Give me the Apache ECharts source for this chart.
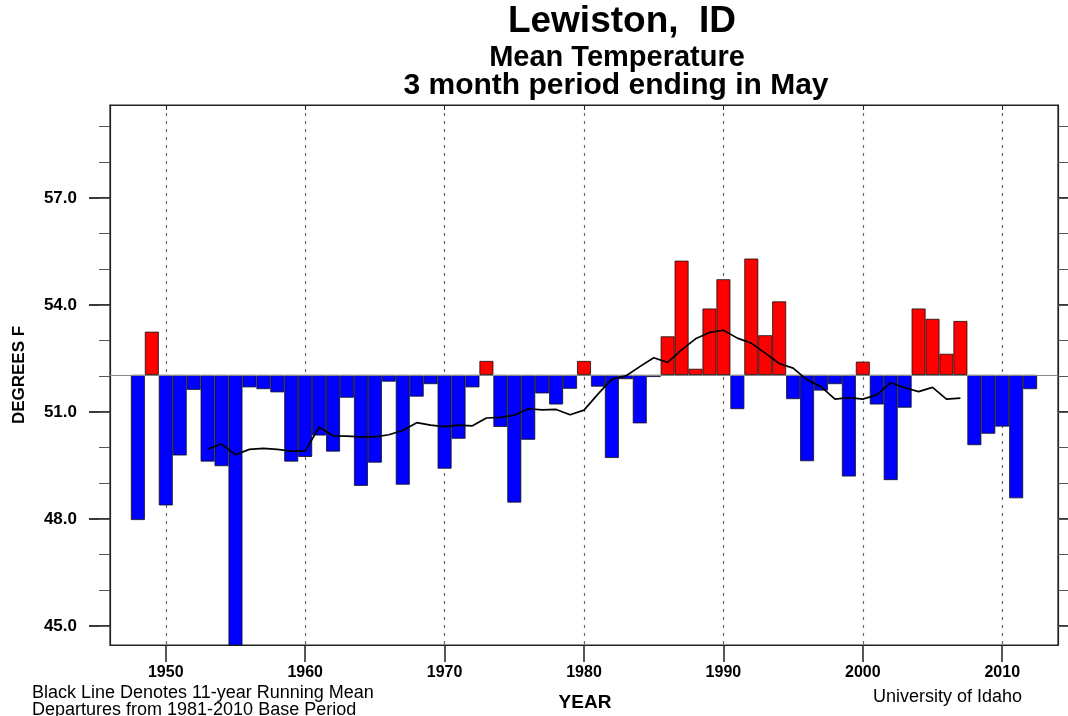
<!DOCTYPE html>
<html><head><meta charset="utf-8">
<script src="https://cdn.jsdelivr.net/npm/echarts@6/dist/echarts.min.js"></script>
<style>html,body{margin:0;padding:0;background:#fff}#c{width:1068px;height:716px}</style>
</head><body><div id="c"></div>
<script>
// x categories (axis spans 1946..2014, ticks at each year point)
const categories = ['1946','1947','1948','1949','1950','1951','1952','1953','1954','1955','1956','1957','1958','1959',
  '1960','1961','1962','1963','1964','1965','1966','1967','1968','1969','1970','1971','1972','1973','1974','1975',
  '1976','1977','1978','1979','1980','1981','1982','1983','1984','1985','1986','1987','1988','1989','1990','1991',
  '1992','1993','1994','1995','1996','1997','1998','1999','2000','2001','2002','2003','2004','2005','2006','2007',
  '2008','2009','2010','2011','2012','2013','2014'];
// Mean temperature (Mar-May) per year, 1948..2012
const barYears = [1948,1949,1950,1951,1952,1953,1954,1955,1956,1957,1958,1959,1960,1961,1962,1963,1964,1965,1966,1967,
  1968,1969,1970,1971,1972,1973,1974,1975,1976,1977,1978,1979,1980,1981,1982,1983,1984,1985,1986,1987,1988,1989,1990,
  1991,1992,1993,1994,1995,1996,1997,1998,1999,2000,2001,2002,2003,2004,2005,2006,2007,2008,2009,2010,2011,2012];
const temps = [47.97,53.25,48.38,49.78,51.62,49.61,49.48,44.30,51.69,51.64,51.55,49.61,49.74,50.34,49.89,51.40,48.93,
  49.58,51.85,48.96,51.43,51.78,49.41,50.25,51.69,52.43,50.58,48.46,50.22,51.52,51.21,51.65,52.43,51.71,49.71,51.92,
  50.68,51.98,53.12,55.24,52.21,53.90,54.72,51.08,55.30,53.15,54.10,51.36,49.62,51.60,51.78,49.19,52.41,51.21,49.09,
  51.12,53.90,53.61,52.63,53.55,50.07,50.39,50.59,48.58,51.64];
// 11-year running mean, 1953..2007
const runYears = [1953,1954,1955,1956,1957,1958,1959,1960,1961,1962,1963,1964,1965,1966,1967,1968,1969,1970,1971,1972,
  1973,1974,1975,1976,1977,1978,1979,1980,1981,1982,1983,1984,1985,1986,1987,1988,1989,1990,1991,1992,1993,1994,1995,
  1996,1997,1998,1999,2000,2001,2002,2003,2004,2005,2006,2007];
const runMean = [49.96,50.10,49.80,49.95,49.98,49.95,49.90,49.90,50.57,50.33,50.32,50.30,50.30,50.36,50.48,50.70,50.63,
  50.59,50.63,50.61,50.83,50.85,50.91,51.09,51.06,51.07,50.92,51.05,51.50,51.92,52.01,52.27,52.52,52.39,52.74,53.05,
  53.23,53.29,53.07,52.93,52.65,52.36,52.23,51.90,51.71,51.36,51.40,51.36,51.48,51.82,51.68,51.57,51.69,51.36,51.39];
const baseValue = 52.04;          // 1981-2010 base period mean
const majorTicks = [45,48,51,54,57];
const minorTicks = [45,46,47,48,49,50,51,52,53,54,55,56,57,58,59];
const yMin = 44.466, yMax = 59.606;

const baseData = categories.map(() => null);
const deltaData = categories.map(() => null);
barYears.forEach((y, i) => {
  const k = categories.indexOf(String(y));
  const v = temps[i];
  baseData[k] = Math.min(v, baseValue);
  deltaData[k] = { value: Math.abs(v - baseValue), itemStyle: { color: v >= baseValue ? '#ff0000' : '#0000ff' } };
});
const lineData = categories.map(() => null);
runYears.forEach((y, i) => { lineData[categories.indexOf(String(y))] = runMean[i]; });

const decade = (idx, val) => Number(val) % 10 === 0;
const FONT = '"Liberation Sans", Arial, Helvetica, sans-serif';
const AX = '#222';
const gridRect = { left: 110, right: 10, top: 105, bottom: 71, outerBoundsMode: 'none', containLabel: false };

const chart = echarts.init(document.getElementById('c'), null, { renderer: 'canvas' });
chart.setOption({
  animation: false,
  backgroundColor: '#fff',
  grid: [
    Object.assign({ show: true, borderColor: AX, borderWidth: 1.2, backgroundColor: 'transparent' }, gridRect),
    Object.assign({ show: false }, gridRect)
  ],
  xAxis: [
    { type: 'category', gridIndex: 0, position: 'bottom', data: categories, boundaryGap: false,
      axisLine: { show: true, lineStyle: { color: AX, width: 1.2 } },
      axisTick: { show: true, interval: decade, length: 17, lineStyle: { color: AX, width: 1.5 } },
      axisLabel: { interval: decade, margin: 20, color: '#000', fontFamily: FONT, fontWeight: 'bold', fontSize: 16 },
      splitLine: { show: true, interval: decade, lineStyle: { color: '#666', type: [3, 5], width: 1.2 } } },
    { type: 'category', gridIndex: 0, position: 'top', data: categories, boundaryGap: false,
      axisLine: { show: true, lineStyle: { color: AX, width: 1.2 } },
      axisTick: { show: true, inside: true, interval: decade, length: 5, lineStyle: { color: AX } },
      axisLabel: { show: false }, splitLine: { show: false } },
    { type: 'category', gridIndex: 1, data: categories, boundaryGap: false, show: false }
  ],
  yAxis: [
    { type: 'value', gridIndex: 0, position: 'left', min: yMin, max: yMax,
      name: 'DEGREES F', nameLocation: 'middle', nameRotate: 90, nameGap: 82,
      nameTextStyle: { color: '#000', fontFamily: FONT, fontWeight: 'bold', fontSize: 17 },
      axisLine: { show: true, lineStyle: { color: AX, width: 1.2 } },
      axisTick: { show: true, length: 21, customValues: majorTicks, lineStyle: { color: AX, width: 1.8 } },
      axisLabel: { show: true, customValues: majorTicks, margin: 33, color: '#000', fontFamily: FONT,
        fontWeight: 'bold', fontSize: 17, formatter: v => Number(v).toFixed(1) },
      splitLine: { show: false } },
    { type: 'value', gridIndex: 0, position: 'right', min: yMin, max: yMax,
      axisLine: { show: true, lineStyle: { color: AX, width: 1.2 } },
      axisTick: { show: true, length: 21, customValues: majorTicks, lineStyle: { color: AX, width: 1.8 } },
      axisLabel: { show: false }, splitLine: { show: false } },
    { type: 'value', gridIndex: 1, position: 'left', min: yMin, max: yMax,
      axisLine: { show: false },
      axisTick: { show: true, length: 11, customValues: minorTicks, lineStyle: { color: '#555', width: 1 } },
      axisLabel: { show: false }, splitLine: { show: false } },
    { type: 'value', gridIndex: 1, position: 'right', min: yMin, max: yMax,
      axisLine: { show: false },
      axisTick: { show: true, length: 11, customValues: minorTicks, lineStyle: { color: '#555', width: 1 } },
      axisLabel: { show: false }, splitLine: { show: false } }
  ],
  series: [
    { type: 'bar', name: 'base', xAxisIndex: 0, yAxisIndex: 0, stack: 'dep', data: baseData, barWidth: '100%',
      itemStyle: { color: 'rgba(0,0,0,0)' }, silent: true },
    { type: 'bar', name: 'departure', xAxisIndex: 0, yAxisIndex: 0, stack: 'dep', data: deltaData, barWidth: '100%',
      itemStyle: { borderColor: '#111', borderWidth: 0.8 },
      markLine: { silent: true, symbol: 'none', label: { show: false },
        lineStyle: { color: '#888', type: 'solid', width: 1 }, data: [{ yAxis: baseValue }] } },
    { type: 'line', name: 'running mean', xAxisIndex: 0, yAxisIndex: 0, data: lineData, symbol: 'none',
      lineStyle: { color: '#000', width: 1.7 }, z: 5 }
  ],
  graphic: [
    { type: 'text', x: 622, y: 22, style: { text: 'Lewiston,  ID', textAlign: 'center', textVerticalAlign: 'middle',
      font: 'bold 37px ' + FONT, fill: '#000' } },
    { type: 'text', x: 617, y: 58, style: { text: 'Mean Temperature', textAlign: 'center', textVerticalAlign: 'middle',
      font: 'bold 29px ' + FONT, fill: '#000' } },
    { type: 'text', x: 616, y: 86, style: { text: '3 month period ending in May', textAlign: 'center', textVerticalAlign: 'middle',
      font: 'bold 30px ' + FONT, fill: '#000' } },
    { type: 'text', x: 585, y: 703, style: { text: 'YEAR', textAlign: 'center', textVerticalAlign: 'middle',
      font: 'bold 19px ' + FONT, fill: '#000' } },
    { type: 'text', x: 32, y: 693, style: { text: 'Black Line Denotes 11-year Running Mean', textAlign: 'left', textVerticalAlign: 'middle',
      font: '18px ' + FONT, fill: '#000' } },
    { type: 'text', x: 32, y: 710, style: { text: 'Departures from 1981-2010 Base Period', textAlign: 'left', textVerticalAlign: 'middle',
      font: '18px ' + FONT, fill: '#000' } },
    { type: 'text', x: 1022, y: 697, style: { text: 'University of Idaho', textAlign: 'right', textVerticalAlign: 'middle',
      font: '18px ' + FONT, fill: '#000' } }
  ]
});
</script>
</body></html>
